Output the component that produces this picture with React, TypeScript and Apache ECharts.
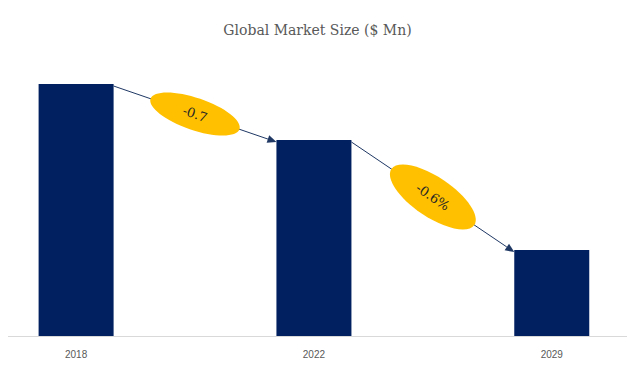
import React, { useEffect, useRef } from "react";
import * as echarts from "echarts";

const categories = ["2018", "2022", "2029"];
const values = [25.2, 19.6, 8.6];
const cagrLabels = ["-0.7", "-0.6%"];
const titleText = "Global Market Size ($ Mn)";

export default function App() {
  const ref = useRef<HTMLDivElement>(null);
  useEffect(() => {
    if (!ref.current) return;
    const chart = echarts.init(ref.current, undefined, { renderer: "svg" });
    const barW = 75;
    chart.setOption({
      animation: false,
      backgroundColor: "#ffffff",
      title: {
        text: titleText,
        left: "center",
        top: 18,
        textStyle: { fontFamily: "DejaVu Serif", fontSize: 14, fontWeight: "normal", color: "#595959" },
      },
      grid: { left: 0, right: 0, top: 36, bottom: 41 },
      xAxis: {
        type: "value",
        min: -0.32,
        max: 2.35,
        splitLine: { show: false },
        axisLine: { show: true, onZero: false, lineStyle: { color: "#d9d9d9", width: 1 } },
        axisTick: { show: false },
        axisLabel: {
          customValues: [0, 1, 2],
          formatter: (v: number) => categories[Math.round(v)] ?? "",
          color: "#595959",
          fontSize: 10,
          fontFamily: "Liberation Sans",
          margin: 13,
        },
      },
      yAxis: { type: "value", min: 0, max: 30, show: false, splitLine: { show: false } },
      series: [
        {
          type: "bar",
          data: values.map((v, i) => [i, v]),
          barWidth: barW,
          itemStyle: { color: "#002060" },
        },
      ],
    });
    const pts = values.map((v, i) => chart.convertToPixel({ gridIndex: 0 }, [i, v]) as number[]);
    const graphics: any[] = [];
    const half = barW / 2;
    for (let i = 0; i < pts.length - 1; i++) {
      const x1 = pts[i][0] + half;
      const y1 = pts[i][1] + 2;
      const x2 = pts[i + 1][0] - half;
      const y2 = pts[i + 1][1] + 2;
      const ang = Math.atan2(y2 - y1, x2 - x1);
      const L = 9, W = 4;
      const bx = x2 - L * Math.cos(ang);
      const by = y2 - L * Math.sin(ang);
      graphics.push({
        type: "line",
        shape: { x1, y1, x2: bx, y2: by },
        style: { stroke: "#1f3864", lineWidth: 1 },
      });
      graphics.push({
        type: "polygon",
        shape: {
          points: [
            [x2, y2],
            [bx + W * Math.sin(ang), by - W * Math.cos(ang)],
            [bx - W * Math.sin(ang), by + W * Math.cos(ang)],
          ],
        },
        style: { fill: "#1f3864" },
      });
      const cx = (x1 + x2) / 2;
      const cy = (y1 + y2) / 2;
      const rx = i === 0 ? 47 : 50;
      const ry = i === 0 ? 16 : 20;
      graphics.push({
        type: "group",
        x: cx,
        y: cy,
        rotation: -ang,
        children: [
          { type: "ellipse", shape: { cx: 0, cy: 0, rx, ry }, style: { fill: "#ffc000" } },
          {
            type: "text",
            x: 0,
            y: 0,
            style: {
              text: cagrLabels[i],
              fontFamily: "DejaVu Serif",
              fontSize: 13,
              fill: "#262626",
              align: "center",
              verticalAlign: "middle",
            },
          },
        ],
      });
    }
    chart.setOption({ graphic: graphics });
    return () => chart.dispose();
  }, []);
  return <div ref={ref} style={{ width: 635, height: 377, margin: -8 }} />;
}
